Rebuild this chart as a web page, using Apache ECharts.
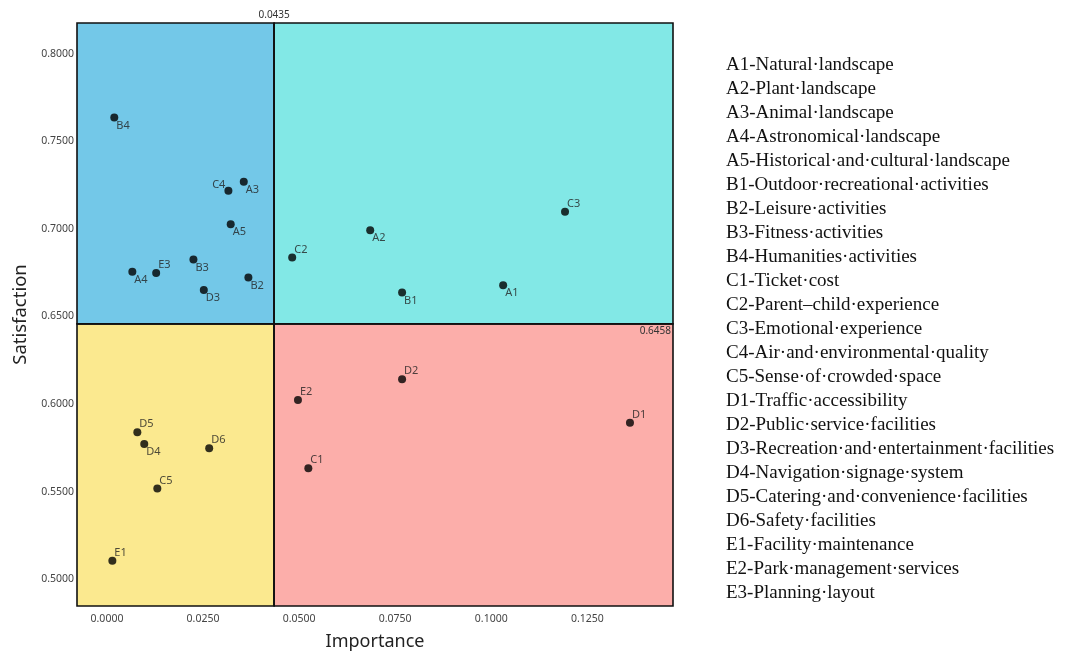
<!DOCTYPE html>
<html>
<head>
<meta charset="utf-8">
<script src="https://cdn.jsdelivr.net/npm/echarts@6/dist/echarts.min.js"></script>
<style>
html,body{margin:0;padding:0;background:#fff;}
#chart{width:1074px;height:652px;}
</style>
</head>
<body>
<div id="chart"></div>
<script>
// ---- data ----
const pointNames = ['A1','A2','A3','A4','A5','B1','B2','B3','B4','C1','C2','C3','C4','C5','D1','D2','D3','D4','D5','D6','E1','E2','E3'];
const importance = [0.1031,0.0685,0.0356,0.0066,0.0322,0.0768,0.0368,0.0225,0.0019,0.0524,0.0482,0.1192,0.0316,0.0131,0.1361,0.0768,0.0252,0.0097,0.0079,0.0266,0.0014,0.0497,0.0128];
const satisfaction = [0.6679,0.6993,0.7269,0.6755,0.7027,0.6637,0.6722,0.6825,0.7636,0.5634,0.6837,0.7098,0.7218,0.5518,0.5894,0.6142,0.6652,0.5773,0.5839,0.5748,0.5106,0.6024,0.6749];
// label placement: 'br' bottom-right, 'tr' top-right, 'tl' top-left
const labelPlace = ['br','br','br','br','br','br','br','br','br','tr','tr','tr','tl','tr','tr','tr','br','br','tr','tr','tr','tr','tr'];
const xTicks = [0, 0.025, 0.05, 0.075, 0.1, 0.125];
const yTicks = [0.5, 0.55, 0.6, 0.65, 0.7, 0.75, 0.8];
const xThreshold = 0.0435;
const yThreshold = 0.6458;
const xRange = [-0.0078, 0.1473];
const yRange = [0.4848, 0.8175];
const legendLines = [
 'A1-Natural·landscape','A2-Plant·landscape','A3-Animal·landscape','A4-Astronomical·landscape',
 'A5-Historical·and·cultural·landscape','B1-Outdoor·recreational·activities','B2-Leisure·activities',
 'B3-Fitness·activities','B4-Humanities·activities','C1-Ticket·cost','C2-Parent–child·experience',
 'C3-Emotional·experience','C4-Air·and·environmental·quality','C5-Sense·of·crowded·space',
 'D1-Traffic·accessibility','D2-Public·service·facilities','D3-Recreation·and·entertainment·facilities',
 'D4-Navigation·signage·system','D5-Catering·and·convenience·facilities','D6-Safety·facilities',
 'E1-Facility·maintenance','E2-Park·management·services','E3-Planning·layout'
];
const quadrantColors = {tl:'#73C8E8', tr:'#82E8E6', bl:'#FBE98F', br:'#FCAEAA'};

// ---- build ----
const labelStyles = {
  br:{position:'right', distance:-2, offset:[0,8]},
  tr:{position:'right', distance:-2, offset:[0,-8]},
  tl:{position:'left', distance:-1, offset:[0,-6]}
};
const points = pointNames.map((n,i)=>({
  name:n, value:[importance[i], satisfaction[i]],
  label:Object.assign({show:true, formatter:n, color:'#222', fontSize:11, fontFamily:'Noto Sans'}, labelStyles[labelPlace[i]])
}));

const border = {borderColor:'#111', borderWidth:1.6};
const areas = [
  [{xAxis:xRange[0], yAxis:yThreshold, itemStyle:Object.assign({color:quadrantColors.tl},border)},{xAxis:xThreshold, yAxis:yRange[1]}],
  [{xAxis:xThreshold, yAxis:yThreshold, itemStyle:Object.assign({color:quadrantColors.tr},border)},{xAxis:xRange[1], yAxis:yRange[1]}],
  [{xAxis:xRange[0], yAxis:yRange[0], itemStyle:Object.assign({color:quadrantColors.bl},border)},{xAxis:xThreshold, yAxis:yThreshold}],
  [{xAxis:xThreshold, yAxis:yRange[0], itemStyle:Object.assign({color:quadrantColors.br},border)},{xAxis:xRange[1], yAxis:yThreshold}]
];

const lineH = 24.0;
const graphics = legendLines.map((t,i)=>({
  type:'text', left:726, top:56 + i*lineH,
  style:{text:t, fill:'#111', font:'19px "Liberation Serif"'}
}));

const chart = echarts.init(document.getElementById('chart'));
chart.setOption({
  animation:false,
  backgroundColor:'#fff',
  grid:{left:77, right:401, top:23, bottom:46, containLabel:false, outerBoundsMode:'none'},
  xAxis:{
    type:'value', min:xRange[0], max:xRange[1],
    name:'Importance', nameLocation:'middle', nameGap:27,
    nameTextStyle:{fontSize:18, color:'#222', fontFamily:'Noto Sans'},
    axisLine:{show:false}, axisTick:{show:false}, splitLine:{show:false},
    axisLabel:{customValues:xTicks, formatter:v=>v.toFixed(4), fontSize:10.5, color:'#444', fontFamily:'Noto Sans', margin:8}
  },
  yAxis:{
    type:'value', min:yRange[0], max:yRange[1],
    name:'Satisfaction', nameLocation:'middle', nameGap:38,
    nameTextStyle:{fontSize:18.5, color:'#222', fontFamily:'Noto Sans'},
    axisLine:{show:false}, axisTick:{show:false}, splitLine:{show:false},
    axisLabel:{customValues:yTicks, formatter:v=>v.toFixed(4), fontSize:10.5, color:'#444', fontFamily:'Noto Sans', margin:3}
  },
  graphic:graphics,
  series:[{
    type:'scatter', symbol:'circle', symbolSize:8,
    itemStyle:{color:'#000'},
    data:points,
    markArea:{silent:true, data:areas},
    markLine:{
      silent:true, symbol:'none', precision:4,
      lineStyle:{color:'#111', width:1.6, type:'solid'},
      data:[
        {xAxis:xThreshold, label:{show:true, position:'end', formatter:'0.0435', fontSize:10, color:'#333', fontFamily:'Noto Sans', distance:3}},
        {yAxis:yThreshold, label:{show:true, position:'insideEndBottom', formatter:'0.6458', fontSize:10, color:'#333', fontFamily:'Noto Sans', distance:2}}
      ]
    }
  }]
});
</script>
</body>
</html>
